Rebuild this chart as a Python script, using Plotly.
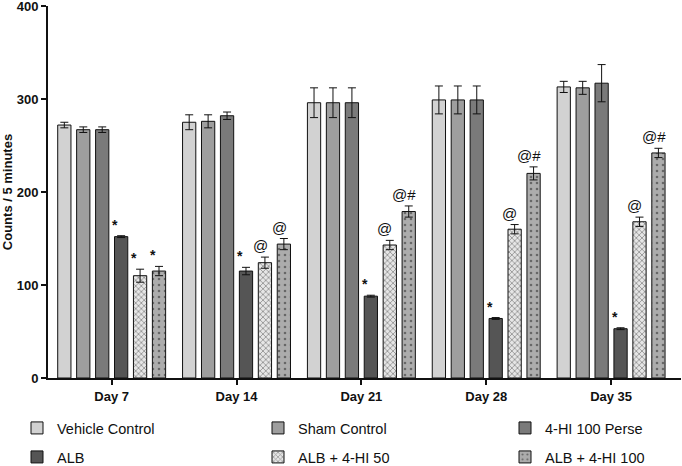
import plotly.graph_objects as go

days = ["Day 7", "Day 14", "Day 21", "Day 28", "Day 35"]

groups = ["Vehicle Control", "Sham Control", "4-HI 100 Perse",
          "ALB", "ALB + 4-HI 50", "ALB + 4-HI 100"]

vehicle = [272, 275, 296, 299, 313]
vehicle_err = [3, 8, 16, 15, 6]
sham = [267, 276, 296, 299, 312]
sham_err = [3, 7, 16, 15, 7]
perse = [267, 282, 296, 299, 317]
perse_err = [3, 4, 16, 15, 20]
alb = [152, 115, 88, 64, 53]
alb_err = [1, 4, 1, 1, 1]
alb50 = [110, 124, 143, 160, 168]
alb50_err = [7, 6, 5, 5, 5]
alb100 = [115, 144, 179, 220, 242]
alb100_err = [5, 6, 6, 7, 5]

# significance marks for ALB, ALB+50, ALB+100
marks_alb = ["*", "*", "*", "*", "*"]
marks_50 = ["*", "@", "@", "@", "@"]
marks_100 = ["*", "@", "@#", "@#", "@#"]

values = [vehicle, sham, perse, alb, alb50, alb100]
errors = [vehicle_err, sham_err, perse_err, alb_err, alb50_err, alb100_err]

colors = ["#d2d2d2", "#9e9e9e", "#7a7a7a", "#555555", "#e6e6e6", "#acacac"]
patterns = [None, None, None, None,
            dict(shape="x", size=4, solidity=0.4, fgcolor="#444444"),
            dict(shape=".", size=6, solidity=0.15, fgcolor="#222222")]

# one legend box per entry, laid out as 3 columns x 2 rows (container px)
legend_x = [17, 258, 505]
legend_y = [428, 457]

fig = go.Figure()
for k, (name, v, e, c, p) in enumerate(zip(groups, values, errors, colors, patterns)):
    marker = dict(color=c, line=dict(color="#111111", width=1))
    if p:
        marker["pattern"] = dict(bgcolor=c, **p)
    fig.add_trace(go.Bar(
        x=days, y=v, name=name, marker=marker,
        legend="legend" if k == 0 else f"legend{k + 1}",
        error_y=dict(type="data", array=e, color="#111111", thickness=1, width=4),
    ))

pitch = 19
for idx, (v, e, m) in enumerate([(alb, alb_err, marks_alb),
                                 (alb50, alb50_err, marks_50),
                                 (alb100, alb100_err, marks_100)]):
    i = idx + 3
    for d, val, err, txt in zip(days, v, e, m):
        star = txt == "*"
        fig.add_annotation(
            x=d, y=val + err, text=txt, showarrow=False,
            xshift=(i - 2.5) * pitch - (6 if star else 5), yshift=1,
            yanchor="bottom",
            font=dict(size=14 if star else 15, color="#111111",
                      family="Liberation Sans", weight="bold" if star else "normal"),
        )

legends = {}
for k in range(6):
    key = "legend" if k == 0 else f"legend{k + 1}"
    legends[key] = dict(
        orientation="h", xref="container", yref="container",
        x=legend_x[k % 3] / 682, y=(466 - legend_y[k // 3]) / 466,
        xanchor="left", yanchor="middle",
        font=dict(size=14.5, family="Liberation Sans"),
        itemwidth=30, bgcolor="rgba(0,0,0,0)",
    )

fig.update_layout(
    width=682, height=466,
    margin=dict(l=48, r=1, t=6, b=88),
    plot_bgcolor="white", paper_bgcolor="white",
    barmode="group", bargap=0.09, bargroupgap=0.3,
    font=dict(family="Liberation Sans", color="#111111"),
    showlegend=True,
    **legends,
)
fig.update_xaxes(
    range=[-0.51, 4.56], showline=True, linecolor="#111111", linewidth=2,
    ticks="outside", ticklen=5, tickwidth=2, tickcolor="#111111",
    automargin=False,
    tickfont=dict(size=13, family="Liberation Sans", weight="bold"),
)
fig.update_yaxes(
    range=[0, 400], dtick=100, showline=True, linecolor="#111111", linewidth=2,
    ticks="outside", ticklen=5, tickwidth=2, tickcolor="#111111",
    showgrid=False, zeroline=False, automargin=False, ticklabeloverflow="allow",
    tickfont=dict(size=13, family="Liberation Sans", weight="bold"),
    title=dict(text="Counts / 5 minutes", standoff=6,
               font=dict(size=13, family="Liberation Sans", weight="bold")),
)

fig.write_html("out.html", config={"displayModeBar": False},
               post_script="document.body.style.margin='0';")
